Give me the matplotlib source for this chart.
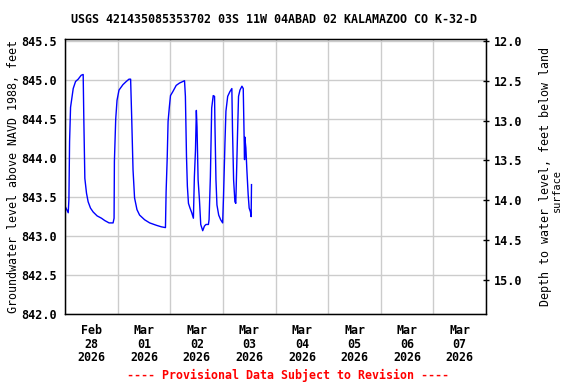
import numpy as np
import pandas as pd
import matplotlib
matplotlib.use('Agg')
import matplotlib.pyplot as plt
import matplotlib.dates as mdates

plt.rcParams['font.family'] = 'DejaVu Sans Mono'
plt.rcParams['font.weight'] = 'bold'

# hours after 2026-02-28 00:00 and groundwater level (ft above NAVD 1988)
hours = [0.12, 1.33, 1.64, 1.94, 2.39, 3.0, 3.6, 4.67, 5.88, 7.24, 8.15, 8.45, 8.91, 9.67,
         10.42, 11.48, 12.7, 14.5, 16.5, 18.0, 19.97, 21.8, 22.25, 22.4, 23.0, 23.6, 24.5,
         26.3, 27.8, 29.06, 29.8, 30.3, 30.9, 31.6, 32.7, 33.9, 36.2, 38.5, 41.5, 43.8,
         45.7, 46.0, 46.5, 46.9, 47.5, 48.0, 49.06, 50.6, 52.1, 54.4, 54.8, 55.3, 55.7,
         56.2, 56.9, 57.7, 58.45, 58.9, 59.4, 59.8, 60.1, 60.6, 61.2, 61.8, 62.7, 63.5,
         64.2, 65.3, 65.6, 66.2, 66.8, 67.5, 68.1, 68.3, 68.75, 69.2, 70.0, 70.9, 71.8,
         72.2, 72.85, 73.3, 74.1, 75.1, 76.0, 76.3, 76.8, 77.4, 77.8, 78.0, 78.6, 79.05,
         79.7, 80.6, 81.2, 81.6, 81.8, 81.9, 82.4, 82.85, 83.45, 83.9, 84.5, 84.8, 84.97]
level = [843.37, 843.30, 843.47, 844.21, 844.65, 844.77, 844.89, 844.98, 845.01, 845.06,
         845.07, 844.49, 843.74, 843.55, 843.44, 843.36, 843.31, 843.26, 843.23, 843.20,
         843.17, 843.17, 843.23, 843.96, 844.50, 844.74, 844.87, 844.94, 844.98, 845.01,
         845.01, 844.51, 843.85, 843.49, 843.34, 843.27, 843.21, 843.17, 843.14, 843.12,
         843.11, 843.57, 844.00, 844.47, 844.66, 844.80, 844.85, 844.93, 844.96, 844.99,
         844.79, 844.02, 843.64, 843.42, 843.36, 843.30, 843.23, 843.76, 844.10, 844.61,
         844.40, 843.72, 843.47, 843.15, 843.07, 843.13, 843.15, 843.15, 843.21, 843.76,
         844.64, 844.80, 844.79, 844.40, 843.72, 843.40, 843.27, 843.21, 843.17, 843.51,
         844.19, 844.60, 844.79, 844.85, 844.89, 844.36, 843.72, 843.44, 843.42, 843.64,
         844.32, 844.79, 844.87, 844.92, 844.89, 844.27, 843.98, 844.27, 844.13, 843.85,
         843.53, 843.36, 843.31, 843.25, 843.66]

left_ticks = [842.0, 842.5, 843.0, 843.5, 844.0, 844.5, 845.0, 845.5]
right_ticks = [12.0, 12.5, 13.0, 13.5, 14.0, 14.5, 15.0]

t0 = pd.Timestamp('2026-02-28')
times = t0 + pd.to_timedelta(hours, unit='h')

fig = plt.figure(figsize=(5.76, 3.84), dpi=100)
ax = fig.add_axes([0.1134, 0.1815, 0.7304, 0.7161])
ax.plot(times, level, color='#0000ff', lw=1.0)

ax.set_xlim(t0, t0 + pd.Timedelta(days=8))
ax.set_ylim(842.0, 845.52)
ax.set_yticks(left_ticks)
ax.set_yticklabels([f'{v:.1f}' for v in left_ticks])

ax.xaxis.set_major_locator(mdates.HourLocator(byhour=[12]))
ax.xaxis.set_major_formatter(mdates.DateFormatter('%b\n%d\n%Y'))
ax.xaxis.set_minor_locator(mdates.DayLocator())
ax.grid(True, which='minor', axis='x', color='#cccccc', lw=1.0)
ax.grid(True, which='major', axis='y', color='#cccccc', lw=1.0)
ax.set_axisbelow(True)
ax.tick_params(axis='x', which='both', length=0, pad=7, labelsize=8.4)
ax.tick_params(axis='y', length=0, pad=6, labelsize=8.5)
for lab in ax.get_xticklabels():
    lab.set_linespacing(1.05)
for s in ax.spines.values():
    s.set_linewidth(1.0)

ax.set_ylabel('Groundwater level above NAVD 1988, feet', fontsize=8.4, labelpad=1)

ax2 = ax.twinx()
ax2.set_ylim(15.43, 11.98)
ax2.set_yticks(right_ticks)
ax2.set_yticklabels([f'{v:.1f}' for v in right_ticks])
ax2.tick_params(axis='y', direction='inout', length=4, width=1, pad=4, labelsize=8.5)
ax2.set_ylabel('Depth to water level, feet below land', fontsize=8.4, labelpad=11.5)
fig.text(0.967, 0.505, 'surface', rotation=90, ha='center', va='center',
         fontsize=7.4, fontweight='normal')

fig.text(0.476, 0.948, 'USGS 421435085353702 03S 11W 04ABAD 02 KALAMAZOO CO K-32-D',
         ha='center', va='center', fontsize=8.4)
fig.text(0.5, 0.023, '---- Provisional Data Subject to Revision ----',
         ha='center', va='center', fontsize=8.4, color='#ff0000')

fig.savefig('out.png', dpi=100, facecolor='white')
